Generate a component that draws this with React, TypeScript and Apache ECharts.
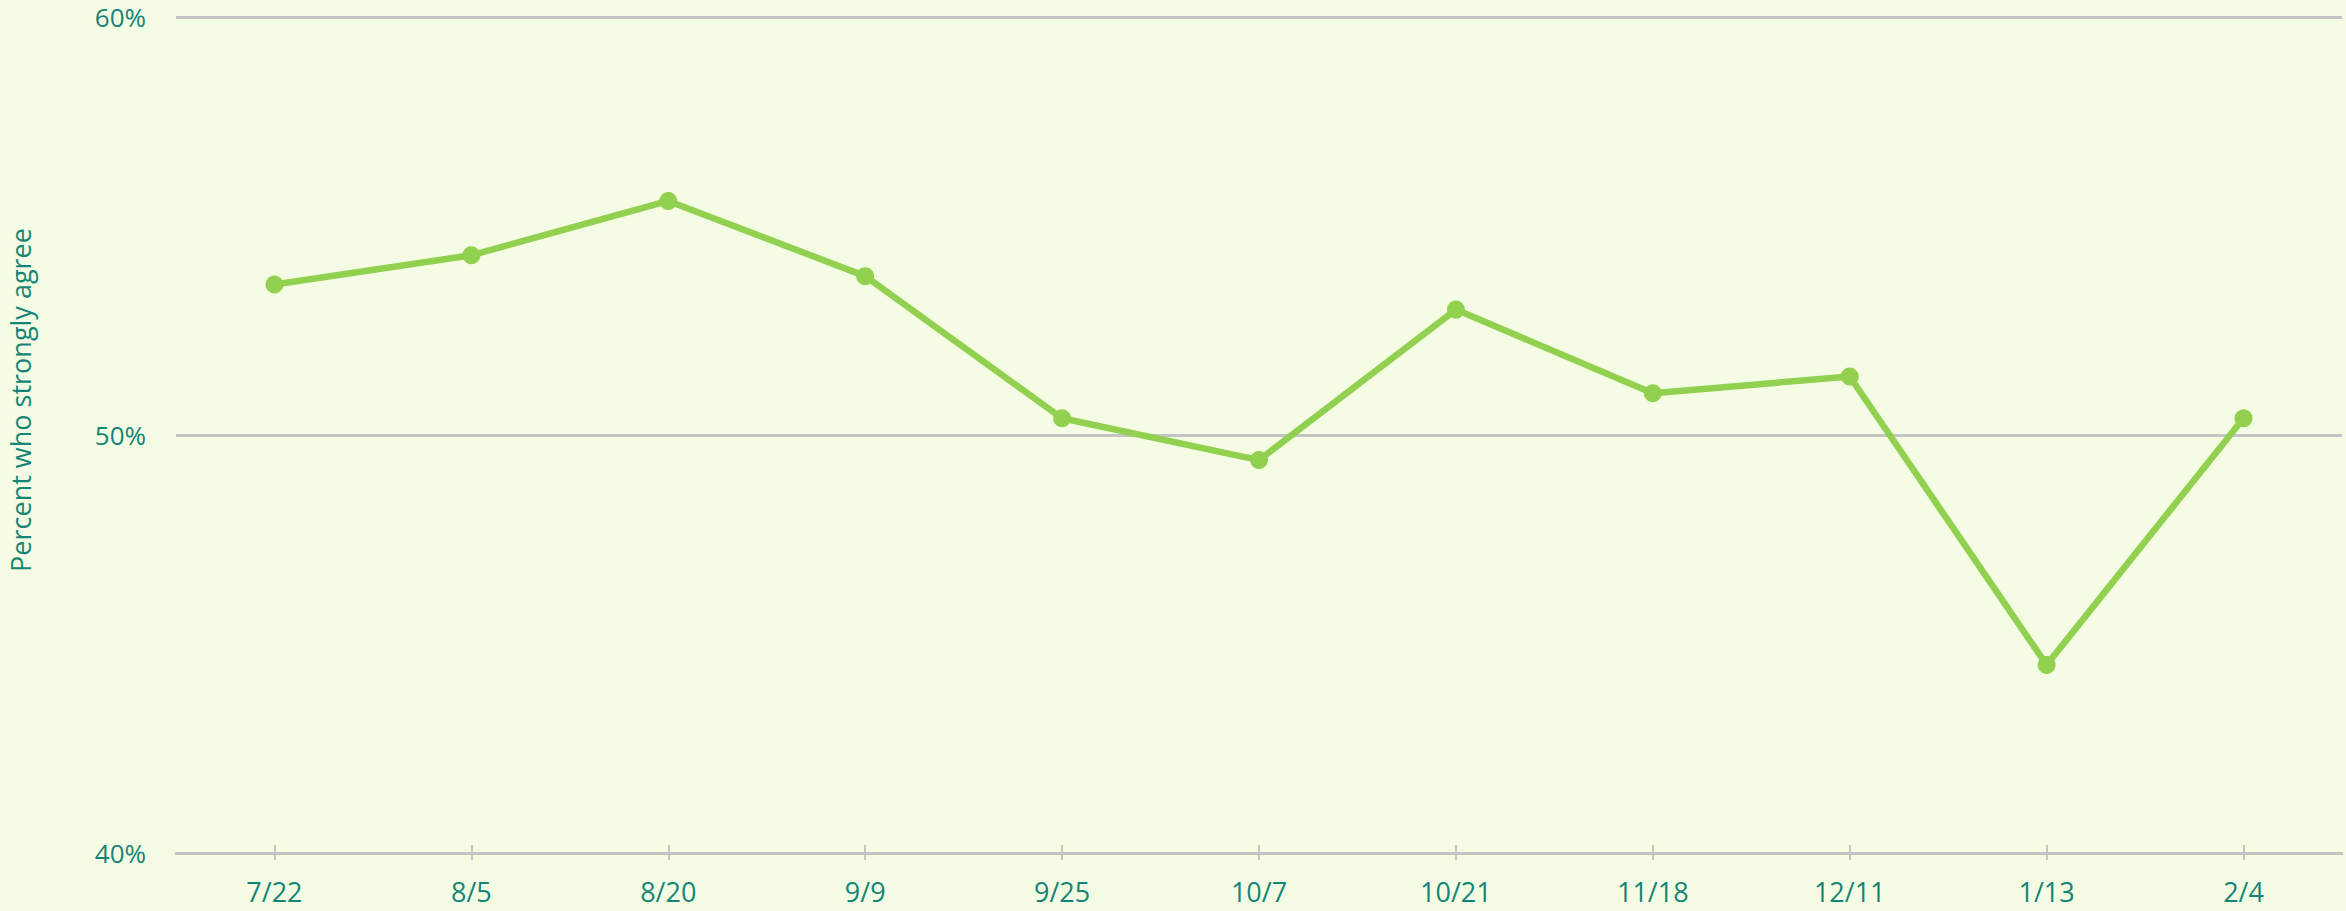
import React, { useEffect, useRef } from "react";
import * as echarts from "echarts";

const categories = ["7/22", "8/5", "8/20", "9/9", "9/25", "10/7", "10/21", "11/18", "12/11", "1/13", "2/4"];
const strongAgree = [53.6, 54.3, 55.6, 53.8, 50.4, 49.4, 53.0, 51.0, 51.4, 44.5, 50.4];
const yTicks = { min: 40, max: 60, interval: 10 };
const yAxisTitle = "Percent who strongly agree";

const TEAL = "#168577";
const GRAY = "#c4c4c4";
const GREEN = "#92d050";
const BG = "#f4fde3";
const FONT = "'Open Sans', sans-serif";

export default function App() {
  const ref = useRef<HTMLDivElement>(null);
  useEffect(() => {
    document.body.style.margin = "0";
    document.body.style.background = BG;
    const chart = echarts.init(ref.current!, undefined, { renderer: "svg" });
    chart.setOption({
      animation: false,
      backgroundColor: BG,
      grid: { left: 176, right: 4, top: 17, bottom: 58, containLabel: false },
      xAxis: [
        {
          type: "category",
          position: "bottom",
          data: categories,
          boundaryGap: true,
          axisLine: { show: true, lineStyle: { color: GRAY, width: 3 } },
          axisTick: { show: true, alignWithLabel: true, length: 7, lineStyle: { color: GRAY, width: 2 } },
          axisLabel: { color: TEAL, fontSize: 27, fontFamily: FONT, margin: 25 },
          splitLine: { show: false },
        },
        {
          type: "category",
          position: "bottom",
          data: categories,
          boundaryGap: true,
          axisLine: { show: false },
          axisTick: { show: true, inside: true, alignWithLabel: true, length: 8, lineStyle: { color: GRAY, width: 2 } },
          axisLabel: { show: false },
          splitLine: { show: false },
        },
      ],
      yAxis: {
        type: "value",
        min: yTicks.min,
        max: yTicks.max,
        interval: yTicks.interval,
        axisLine: { show: false },
        axisTick: { show: false },
        axisLabel: { formatter: "{value}%", color: TEAL, fontSize: 26, fontFamily: FONT, margin: 30 },
        splitLine: { show: true, lineStyle: { color: GRAY, width: 3 } },
      },
      graphic: [
        {
          type: "text",
          x: 20,
          y: 400,
          rotation: Math.PI / 2,
          style: {
            text: yAxisTitle,
            fill: TEAL,
            font: `27px ${FONT}`,
            textAlign: "center",
            textVerticalAlign: "middle",
          },
        },
      ],
      series: [
        {
          type: "line",
          data: strongAgree,
          xAxisIndex: 0,
          symbol: "circle",
          symbolSize: 18,
          itemStyle: { color: GREEN },
          lineStyle: { color: GREEN, width: 6.5 },
        },
      ],
    });
    return () => chart.dispose();
  }, []);
  return <div ref={ref} style={{ width: 2346, height: 911 }} />;
}
